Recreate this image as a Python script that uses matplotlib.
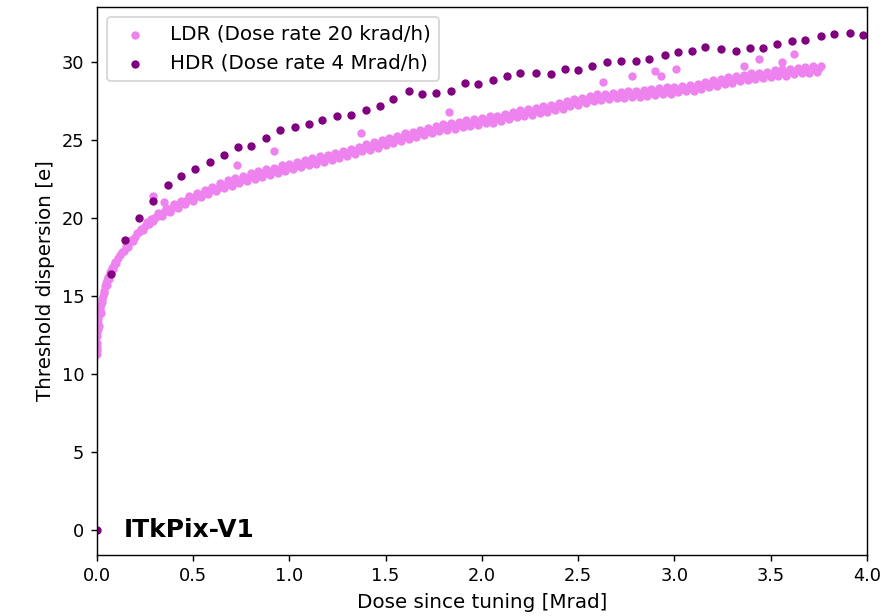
import matplotlib
matplotlib.use('Agg')
import matplotlib.pyplot as plt

# LDR run (20 krad/h), dose in Mrad and threshold dispersion in e
ldr_dose = [
    0.001, 0.001, 0.002, 0.002, 0.003, 0.004, 0.005, 0.006, 0.008, 0.010,
    0.012, 0.015, 0.018, 0.021, 0.024, 0.027, 0.030, 0.033, 0.036, 0.040,
    0.044, 0.048, 0.052, 0.056, 0.060, 0.065, 0.070, 0.075, 0.080, 0.085,
    0.090, 0.095, 0.100, 0.11, 0.12, 0.13, 0.14, 0.15, 0.16, 0.17,
    0.18, 0.19, 0.20, 0.21, 0.22, 0.23, 0.24, 0.25, 0.26, 0.27,
    0.28, 0.29, 0.30,
    0.32, 0.34, 0.36, 0.38, 0.40, 0.42, 0.44, 0.46, 0.48, 0.50,
    0.52, 0.54, 0.56, 0.58, 0.60, 0.62, 0.64, 0.66, 0.68, 0.70,
    0.72, 0.74, 0.76, 0.78, 0.80, 0.82, 0.84, 0.86, 0.88, 0.90,
    0.92, 0.94, 0.96, 0.98, 1.00, 1.02, 1.04, 1.06, 1.08, 1.10,
    1.12, 1.14, 1.16, 1.18, 1.20, 1.22, 1.24, 1.26, 1.28, 1.30,
    1.32, 1.34, 1.36, 1.38, 1.40, 1.42, 1.44, 1.46, 1.48, 1.50,
    1.52, 1.54, 1.56, 1.58, 1.60, 1.62, 1.64, 1.66, 1.68, 1.70,
    1.72, 1.74, 1.76, 1.78, 1.80, 1.82, 1.84, 1.86, 1.88, 1.90,
    1.92, 1.94, 1.96, 1.98, 2.00, 2.02, 2.04, 2.06, 2.08, 2.10,
    2.12, 2.14, 2.16, 2.18, 2.20, 2.22, 2.24, 2.26, 2.28, 2.30,
    2.32, 2.34, 2.36, 2.38, 2.40, 2.42, 2.44, 2.46, 2.48, 2.50,
    2.52, 2.54, 2.56, 2.58, 2.60, 2.62, 2.64, 2.66, 2.68, 2.70,
    2.72, 2.74, 2.76, 2.78, 2.80, 2.82, 2.84, 2.86, 2.88, 2.90,
    2.92, 2.94, 2.96, 2.98, 3.00, 3.02, 3.04, 3.06, 3.08, 3.10,
    3.12, 3.14, 3.16, 3.18, 3.20, 3.22, 3.24, 3.26, 3.28, 3.30,
    3.32, 3.34, 3.36, 3.38, 3.40, 3.42, 3.44, 3.46, 3.48, 3.50,
    3.52, 3.54, 3.56, 3.58, 3.60, 3.62, 3.64, 3.66, 3.68, 3.70,
    3.72, 3.74, 3.76,
    # outliers above the band
    0.29, 0.35, 0.73, 0.92, 1.37, 1.83, 2.63, 2.78, 2.90, 2.93,
    3.01, 3.36, 3.44, 3.56, 3.62,
]
ldr_disp = [
    11.3, 11.7, 12.0, 12.4, 12.7, 11.5, 12.9, 13.2, 13.5, 13.1,
    13.8, 14.0, 14.2, 13.9, 14.5, 14.8, 14.6, 15.0, 15.3, 15.2,
    15.6, 15.8, 15.7, 16.0, 16.2, 16.1, 16.5, 16.6, 16.8, 16.7,
    17.0, 17.2, 17.1, 17.4, 17.6, 17.8, 17.9, 18.2, 18.1, 18.4,
    18.6, 18.5, 18.8, 19.0, 19.1, 19.3, 19.2, 19.5, 19.7, 19.6,
    19.9, 19.8, 20.0,
    20.3, 20.1, 20.6, 20.4, 20.9, 20.6, 21.1, 20.9, 21.4, 21.1,
    21.6, 21.3, 21.8, 21.5, 22.0, 21.7, 22.2, 21.9, 22.4, 22.05,
    22.55, 22.2, 22.7, 22.35, 22.85, 22.5, 23.0, 22.6, 23.1, 22.75,
    23.2, 22.85, 23.35, 23.0, 23.45, 23.1, 23.55, 23.25, 23.7, 23.35,
    23.8, 23.45, 23.95, 23.6, 24.05, 23.7, 24.15, 23.85, 24.3, 23.95,
    24.4, 24.1, 24.55, 24.25, 24.7, 24.35, 24.85, 24.5, 25.0, 24.65,
    25.1, 24.8, 25.25, 24.95, 25.4, 25.05, 25.5, 25.2, 25.65, 25.3,
    25.75, 25.4, 25.9, 25.55, 26.0, 25.65, 26.1, 25.7, 26.15, 25.8,
    26.25, 25.9, 26.3, 25.95, 26.4, 26.05, 26.5, 26.1, 26.55, 26.2,
    26.65, 26.3, 26.8, 26.45, 26.9, 26.55, 27.0, 26.6, 27.05, 26.7,
    27.15, 26.8, 27.25, 26.9, 27.35, 27.0, 27.45, 27.15, 27.6, 27.25,
    27.7, 27.35, 27.8, 27.45, 27.9, 27.55, 27.95, 27.6, 28.0, 27.65,
    28.05, 27.7, 28.1, 27.75, 28.15, 27.75, 28.2, 27.8, 28.25, 27.85,
    28.3, 27.9, 28.35, 27.95, 28.4, 28.05, 28.45, 28.1, 28.5, 28.15,
    28.6, 28.25, 28.7, 28.35, 28.8, 28.45, 28.9, 28.55, 29.0, 28.65,
    29.1, 28.75, 29.15, 28.8, 29.25, 28.9, 29.3, 28.95, 29.35, 29.0,
    29.45, 29.05, 29.5, 29.1, 29.55, 29.2, 29.6, 29.25, 29.65, 29.3,
    29.75, 29.35, 29.7,
    21.4, 21.0, 23.4, 24.3, 25.4, 26.8, 28.7, 29.1, 29.4, 29.1,
    29.5, 29.7, 30.2, 30.0, 30.5,
]

# LDR readings in between, near the middle of the band
ldr_dose_mid = [
    0.31, 0.33, 0.35, 0.37, 0.39, 0.41, 0.43, 0.45, 0.47, 0.49,
    0.51, 0.53, 0.55, 0.57, 0.59, 0.61, 0.63, 0.65, 0.67, 0.69,
    0.71, 0.73, 0.75, 0.77, 0.79, 0.81, 0.83, 0.85, 0.87, 0.89,
    0.91, 0.93, 0.95, 0.97, 0.99, 1.01, 1.03, 1.05, 1.07, 1.09,
    1.11, 1.13, 1.15, 1.17, 1.19, 1.21, 1.23, 1.25, 1.27, 1.29,
    1.31, 1.33, 1.35, 1.37, 1.39, 1.41, 1.43, 1.45, 1.47, 1.49,
    1.51, 1.53, 1.55, 1.57, 1.59, 1.61, 1.63, 1.65, 1.67, 1.69,
    1.71, 1.73, 1.75, 1.77, 1.79, 1.81, 1.83, 1.85, 1.87, 1.89,
    1.91, 1.93, 1.95, 1.97, 1.99, 2.01, 2.03, 2.05, 2.07, 2.09,
    2.11, 2.13, 2.15, 2.17, 2.19, 2.21, 2.23, 2.25, 2.27, 2.29,
    2.31, 2.33, 2.35, 2.37, 2.39, 2.41, 2.43, 2.45, 2.47, 2.49,
    2.51, 2.53, 2.55, 2.57, 2.59, 2.61, 2.63, 2.65, 2.67, 2.69,
    2.71, 2.73, 2.75, 2.77, 2.79, 2.81, 2.83, 2.85, 2.87, 2.89,
    2.91, 2.93, 2.95, 2.97, 2.99, 3.01, 3.03, 3.05, 3.07, 3.09,
    3.11, 3.13, 3.15, 3.17, 3.19, 3.21, 3.23, 3.25, 3.27, 3.29,
    3.31, 3.33, 3.35, 3.37, 3.39, 3.41, 3.43, 3.45, 3.47, 3.49,
    3.51, 3.53, 3.55, 3.57, 3.59, 3.61, 3.63, 3.65, 3.67, 3.69,
    3.71, 3.73, 3.75,
]
ldr_disp_mid = [
    20.07, 20.21, 20.35, 20.49, 20.63, 20.76, 20.88, 21.0, 21.12, 21.24,
    21.35, 21.45, 21.55, 21.65, 21.75, 21.85, 21.94, 22.03, 22.12, 22.2,
    22.29, 22.37, 22.45, 22.53, 22.61, 22.68, 22.74, 22.8, 22.86, 22.92,
    22.98, 23.04, 23.1, 23.16, 23.22, 23.28, 23.34, 23.4, 23.46, 23.52,
    23.58, 23.64, 23.7, 23.76, 23.82, 23.88, 23.94, 24.0, 24.06, 24.12,
    24.19, 24.26, 24.33, 24.4, 24.47, 24.54, 24.61, 24.68, 24.75, 24.82,
    24.89, 24.96, 25.03, 25.1, 25.17, 25.23, 25.29, 25.35, 25.41, 25.47,
    25.53, 25.59, 25.65, 25.71, 25.77, 25.82, 25.86, 25.9, 25.94, 25.98,
    26.02, 26.06, 26.1, 26.14, 26.18, 26.22, 26.26, 26.3, 26.34, 26.38,
    26.43, 26.49, 26.55, 26.61, 26.67, 26.72, 26.76, 26.8, 26.84, 26.88,
    26.93, 26.98, 27.03, 27.08, 27.13, 27.18, 27.24, 27.3, 27.36, 27.42,
    27.48, 27.53, 27.58, 27.63, 27.68, 27.72, 27.75, 27.78, 27.81, 27.84,
    27.86, 27.88, 27.9, 27.92, 27.94, 27.96, 27.98, 28.0, 28.02, 28.04,
    28.07, 28.1, 28.13, 28.16, 28.19, 28.22, 28.25, 28.28, 28.31, 28.34,
    28.38, 28.43, 28.48, 28.53, 28.58, 28.63, 28.68, 28.73, 28.78, 28.83,
    28.87, 28.91, 28.95, 28.99, 29.03, 29.07, 29.1, 29.13, 29.16, 29.19,
    29.22, 29.25, 29.28, 29.31, 29.34, 29.37, 29.4, 29.43, 29.46, 29.49,
    29.52, 29.55, 29.58,
]

# HDR run (4 Mrad/h)
hdr_dose = [
    0.0, 0.073, 0.145, 0.218, 0.29, 0.368, 0.44, 0.51, 0.59, 0.66,
    0.736, 0.80, 0.877, 0.95, 1.03, 1.10, 1.17, 1.25, 1.32, 1.40,
    1.47, 1.54, 1.62, 1.69, 1.76, 1.84, 1.91, 1.98, 2.06, 2.13,
    2.20, 2.28, 2.36, 2.43, 2.50, 2.57, 2.65, 2.72, 2.80, 2.87,
    2.95, 3.02, 3.09, 3.16, 3.24, 3.32, 3.39, 3.46, 3.53, 3.61,
    3.68, 3.76, 3.83, 3.91, 3.98,
]
hdr_disp = [
    0.0, 16.4, 18.6, 20.0, 21.05, 22.1, 22.65, 23.1, 23.55, 24.0,
    24.55, 24.6, 25.1, 25.6, 25.8, 26.0, 26.25, 26.5, 26.6, 26.9,
    27.15, 27.6, 28.1, 27.95, 28.0, 28.1, 28.65, 28.6, 28.8, 29.1,
    29.3, 29.3, 29.2, 29.55, 29.45, 29.7, 29.95, 30.05, 30.05, 30.15,
    30.45, 30.6, 30.7, 30.95, 30.8, 30.7, 30.9, 30.9, 31.15, 31.35,
    31.4, 31.65, 31.8, 31.85, 31.7,
]

fig = plt.figure(figsize=(892 / 128, 616 / 128), dpi=128)
ax = fig.add_axes([0.1084, 0.099, 0.8636, 0.8896])

ax.scatter(ldr_dose + ldr_dose_mid, ldr_disp + ldr_disp_mid, s=22, linewidths=0,
           color='violet', label='LDR (Dose rate 20 krad/h)')
ax.scatter(hdr_dose, hdr_disp, s=22, linewidths=0, color='purple',
           label='HDR (Dose rate 4 Mrad/h)')

ax.set_xlim(0, 4.0)
ax.set_ylim(-1.6, 33.5)
ax.set_xlabel('Dose since tuning [Mrad]', fontsize=11.2)
ax.set_ylabel('Threshold dispersion [e]', fontsize=11.2)
ax.legend(loc='upper left', fontsize=11.2)

ax.text(0.14, 0.0, 'ITkPix-V1', fontsize=14, fontweight='bold', va='center', ha='left')

fig.savefig('out.png', dpi=128)
